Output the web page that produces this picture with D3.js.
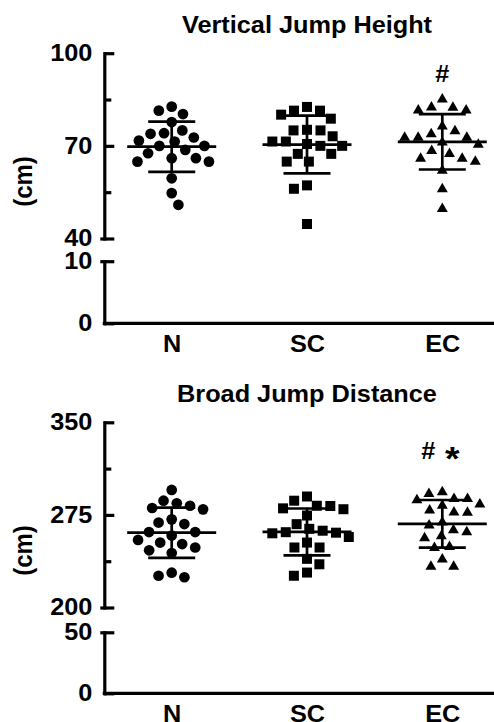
<!DOCTYPE html>
<html>
<head>
<meta charset="utf-8">
<script src="https://cdn.jsdelivr.net/npm/d3@7"></script>
<style>
  html, body { margin: 0; padding: 0; background: #fff; }
  svg { display: block; }
  text { font-family: "Liberation Sans", Arial, sans-serif; font-weight: bold; fill: #000; }
</style>
</head>
<body>
<svg id="chart" width="494" height="722"></svg>
<script>
// ---------------- data ----------------
const categories = ["N", "SC", "EC"];

// Vertical jump height (cm)
const vjN  = [81.4, 82.7, 80.3, 77.7, 74.1, 75.0, 73.9, 72.7, 71.7, 71.4, 70.0, 70.0, 68.7, 67.6, 66.0, 66.0, 64.9, 64.9, 59.5, 54.7, 50.9];
const vjSC = [82.6, 81.4, 81.4, 78.8, 80.1, 75.2, 73.1, 75.0, 75.0, 70.0, 71.4, 70.6, 71.4, 70.0, 67.4, 67.4, 64.9, 64.9, 57.2, 56.1, 44.7];
const vjEC = [82.4, 81.5, 81.5, 82.5, 85.1, 74.8, 76.3, 72.7, 72.7, 73.8, 72.7, 70.4, 71.1, 68.4, 67.4, 65.9, 64.9, 65.9, 62.0, 56.0, 49.6];

// Broad jump distance (cm)
const bjN  = [295.2, 286.5, 282.4, 284.4, 279.5, 280.6, 271.4, 268.8, 267.6, 261.1, 261.1, 258.3, 254.7, 251.4, 248.6, 252.6, 246.3, 244.1, 228.2, 224.5, 225.7];
const bjSC = [289.9, 286.5, 282.4, 279.6, 274.5, 280.3, 282.2, 267.5, 262.2, 260.6, 257.1, 260.1, 261.0, 263.7, 252.6, 248.6, 248.6, 239.4, 235.0, 225.7, 228.3];
const bjEC = [288.0, 287.0, 292.0, 293.5, 288.1, 282.5, 283.5, 277.0, 276.8, 278.7, 268.9, 266.5, 261.0, 262.7, 257.8, 256.2, 249.1, 248.4, 239.0, 233.1, 233.1];

// axis ticks
const vjMajorTicks = [40, 70, 100];
const vjMinorTicks = [55, 85];
const vjLowerTicks = [0, 10];
const bjMajorTicks = [200, 275, 350];
const bjMinorTicks = [237.5, 312.5];
const bjLowerTicks = [0, 50];

// significance marks (above EC)
const vjMarks = ["#"];
const bjMarks = ["#", "*"];

// ---------------- layout ----------------
const W = 494, H = 722;
const svg = d3.select("#chart");
const axisX = 104.3;
const SX = 1.1; // horizontal text stretch
const x = d3.scalePoint().domain(categories).range([171.7, 442.3]);
const symbols = [d3.symbolCircle, d3.symbolSquare, d3.symbolTriangle];
const symbolSizes = [90, 100, 52];

function swarm(values, yScale, dist) {
  const pts = values.map((v, i) => ({ v, y: yScale(v), i }));
  const order = pts.slice().sort((a, b) => a.y - b.y);
  const placed = [];
  for (const p of order) {
    const iv = [];
    for (const q of placed) {
      const dy = p.y - q.y;
      if (Math.abs(dy) < dist) {
        const dx = Math.sqrt(dist * dist - dy * dy);
        iv.push([q.dx - dx, q.dx + dx]);
      }
    }
    const cands = [0];
    iv.forEach(([a, b]) => cands.push(a, b));
    cands.sort((a, b) => Math.abs(a) - Math.abs(b) || (placed.length % 2 ? a - b : b - a));
    p.dx = cands.find(c => iv.every(([a, b]) => c <= a + 1e-6 || c >= b - 1e-6));
    placed.push(p);
  }
  return pts;
}

function styleAxis(g, sw) {
  g.selectAll("path.domain").attr("stroke", "#000").attr("stroke-width", sw).attr("stroke-linecap", "square");
  g.selectAll(".tick line").attr("stroke", "#000").attr("stroke-width", sw);
}

function drawPanel(p) {
  const g = svg.append("g");
  const yU = d3.scaleLinear().domain([p.major[0], p.major[p.major.length - 1]]).range(p.upperRange);
  const yL = d3.scaleLinear().domain([p.lower[0], p.lower[p.lower.length - 1]]).range(p.lowerRange);
  const sw = 3.2;

  // title
  g.append("text")
    .attr("transform", `translate(${x("SC")},${p.titleY}) scale(${SX},1)`)
    .attr("text-anchor", "middle").attr("font-size", 23).text(p.title);

  // y label
  g.append("text")
    .attr("transform", `translate(25,${p.cmY}) rotate(-90) scale(1,${SX})`)
    .attr("text-anchor", "middle").attr("dy", "0.26em").attr("font-size", 24).text("(cm)");

  // upper axis (major)
  const gu = g.append("g").attr("transform", `translate(${axisX},0)`)
    .call(d3.axisLeft(yU).tickValues(p.major).tickSizeInner(-10).tickSizeOuter(0).tickPadding(12));
  styleAxis(gu, sw);
  // minor ticks
  const gm = g.append("g").attr("transform", `translate(${axisX},0)`)
    .call(d3.axisLeft(yU).tickValues(p.minor).tickSizeInner(-7).tickSizeOuter(0).tickFormat(""));
  gm.select("path.domain").remove();
  styleAxis(gm, sw);
  // break stub at bottom of upper segment
  const gs1 = g.append("g").attr("transform", `translate(${axisX},0)`)
    .call(d3.axisLeft(yU).tickValues([p.major[0]]).tickSize(4).tickFormat(""));
  gs1.select("path.domain").remove();
  styleAxis(gs1, sw);

  // lower axis
  const gl = g.append("g").attr("transform", `translate(${axisX},0)`)
    .call(d3.axisLeft(yL).tickValues(p.lower).tickSizeInner(-10).tickSizeOuter(0).tickPadding(12));
  styleAxis(gl, sw);
  const gs2 = g.append("g").attr("transform", `translate(${axisX},0)`)
    .call(d3.axisLeft(yL).tickValues([p.lower[p.lower.length - 1]]).tickSize(4).tickFormat(""));
  gs2.select("path.domain").remove();
  styleAxis(gs2, sw);

  [gu, gl].forEach(a => a.selectAll(".tick text")
    .attr("font-size", 23).attr("font-family", null).attr("fill", "#000")
    .attr("x", -12 / SX).attr("transform", `scale(${SX},1)`));

  // x axis baseline
  g.append("line").attr("x1", axisX - 1.6).attr("x2", W).attr("y1", yL(0)).attr("y2", yL(0))
    .attr("stroke", "#000").attr("stroke-width", sw);
  const gx = g.append("g").attr("transform", `translate(0,${yL(0)})`)
    .call(d3.axisBottom(x).tickSize(0));
  gx.select("path.domain").remove();
  gx.selectAll(".tick text").attr("font-size", 23).attr("font-family", null).attr("fill", "#000")
    .attr("y", 28.3).attr("dy", 0).attr("transform", `scale(${SX},1)`);

  // data: points & error bars (mean ± SD)
  p.series.forEach((vals, k) => {
    const cx = x(categories[k]);
    const m = d3.mean(vals), sd = d3.deviation(vals);
    const eb = g.append("g").attr("stroke", "#000").attr("stroke-width", 2.7);
    eb.append("line").attr("x1", cx - 44.5).attr("x2", cx + 44.5).attr("y1", yU(m)).attr("y2", yU(m));
    eb.append("line").attr("x1", cx - 23.5).attr("x2", cx + 23.5).attr("y1", yU(m + sd)).attr("y2", yU(m + sd));
    eb.append("line").attr("x1", cx - 23.5).attr("x2", cx + 23.5).attr("y1", yU(m - sd)).attr("y2", yU(m - sd));
    eb.append("line").attr("x1", cx).attr("x2", cx).attr("y1", yU(m + sd)).attr("y2", yU(m - sd));

    const pts = swarm(vals, yU, 13.5);
    g.append("g").selectAll("path").data(pts).join("path")
      .attr("transform", d => `translate(${cx + d.dx},${d.y})`)
      .attr("d", d3.symbol(symbols[k], symbolSizes[k])())
      .attr("fill", "#000");
  });

  // significance marks above EC
  const n = p.marks.length;
  p.marks.forEach((t, i) => {
    const mx = x("EC") + (n === 1 ? 0 : (i === 0 ? -14 : 10));
    const isStar = t === "*";
    g.append("text")
      .attr("transform", `translate(${mx},${p.markY + (isStar ? 11 : 0)}) scale(${SX},1)`)
      .attr("text-anchor", "middle").attr("font-size", isStar ? 34 : 23).text(t);
  });
}

drawPanel({
  title: "Vertical Jump Height", titleY: 33.3, cmY: 181.5,
  major: vjMajorTicks, minor: vjMinorTicks, lower: vjLowerTicks,
  upperRange: [238.5, 53.2], lowerRange: [323.3, 261.2],
  series: [vjN, vjSC, vjEC], marks: vjMarks, markY: 82
});
drawPanel({
  title: "Broad Jump Distance", titleY: 401.7, cmY: 550.5,
  major: bjMajorTicks, minor: bjMinorTicks, lower: bjLowerTicks,
  upperRange: [607.5, 422.3], lowerRange: [693.3, 632.3],
  series: [bjN, bjSC, bjEC], marks: bjMarks, markY: 458.5
});
</script>
</body>
</html>
